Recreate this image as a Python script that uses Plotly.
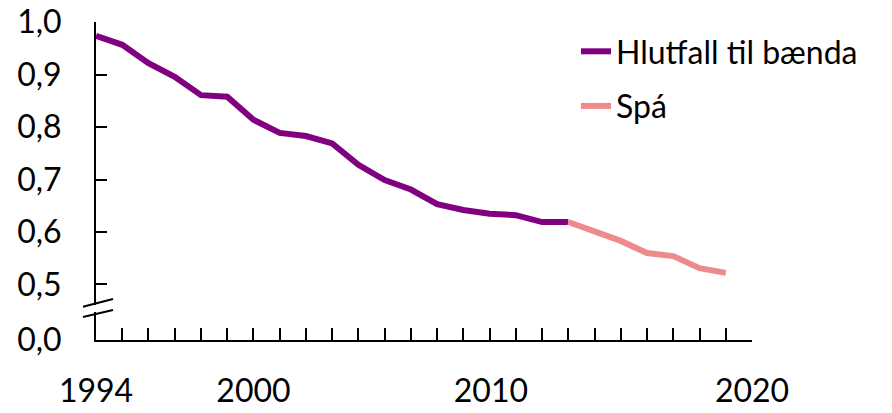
import plotly.graph_objects as go

# ---- data ----
years_actual = list(range(1994, 2013))
share_actual = [0.974, 0.957, 0.922, 0.896, 0.861, 0.858, 0.814, 0.789, 0.783, 0.769,
                0.728, 0.699, 0.681, 0.653, 0.642, 0.635, 0.632, 0.619, 0.619]
years_forecast = list(range(2012, 2019))
share_forecast = [0.619, 0.602, 0.583, 0.560, 0.554, 0.531, 0.522]

y_tick_vals = [0.394, 0.5, 0.6, 0.7, 0.8, 0.9, 1.0]
y_tick_text = ["0,0", "0,5", "0,6", "0,7", "0,8", "0,9", "1,0"]
x_label_vals = [1994, 2000, 2009.05, 2019]
x_label_text = ["1994", "2000", "2010", "2020"]

PURPLE = "#800080"
PINK = "#EE8A8A"
FONT = "Lato"
FS = 32

W, H = 892, 413
L, T = 96, 22
pw, ph = 656, 318
R, B = W - L - pw, H - T - ph

fig = go.Figure()
fig.add_trace(go.Scatter(x=years_actual, y=share_actual, mode="lines",
                         name="Hlutfall til bænda",
                         line=dict(color=PURPLE, width=6), legendgroup="a"))
fig.add_trace(go.Scatter(x=years_forecast, y=share_forecast, mode="lines",
                         name="Spá",
                         line=dict(color=PINK, width=6), legendgroup="b"))
# invisible trace on label axis
fig.add_trace(go.Scatter(x=[1994, 2019], y=[None, None], xaxis="x2",
                         showlegend=False, hoverinfo="skip"))

def px_x(p):  # page px -> paper
    return (p - L) / pw

def px_y(p):
    return (T + ph - p) / ph

fig.update_layout(
    width=W, height=H,
    margin=dict(l=L, r=R, t=T, b=B, autoexpand=False),
    paper_bgcolor="white", plot_bgcolor="white",
    font=dict(family=FONT, size=FS, color="black"),
    xaxis=dict(range=[1994, 2019], tickmode="array",
               tickvals=list(range(1994, 2020)), ticktext=[""] * 26,
               ticks="inside", ticklen=12, tickwidth=2, tickcolor="black",
               showline=True, linecolor="black", linewidth=2,
               showgrid=False, zeroline=False, automargin=False),
    xaxis2=dict(range=[1994, 2019], overlaying="x", side="bottom",
                anchor="y", tickmode="array", tickvals=x_label_vals,
                ticktext=x_label_text, ticks="", showline=False,
                showgrid=False, zeroline=False, ticklabelstandoff=29,
                automargin=False, ticklabeloverflow="allow",
                tickfont=dict(family=FONT, size=FS)),
    yaxis=dict(range=[0.394, 1.0005], tickmode="array",
               tickvals=y_tick_vals, ticktext=y_tick_text,
               ticks="inside", ticklen=11, tickwidth=2, tickcolor="black",
               showline=True, linecolor="black", linewidth=2,
               showgrid=False, zeroline=False, ticklabelstandoff=26,
               automargin=False, ticklabeloverflow="allow",
               tickfont=dict(family=FONT, size=FS)),
    legend=dict(x=px_x(576), y=px_y(24), xanchor="left", yanchor="top",
                font=dict(family=FONT, size=FS, color="black"),
                traceorder="grouped", tracegroupgap=10,
                bgcolor="rgba(0,0,0,0)"),
    showlegend=True,
)

# axis break marks
fig.add_shape(type="rect", xref="paper", yref="paper",
              x0=px_x(93), x1=px_x(99), y0=px_y(312), y1=px_y(305),
              fillcolor="white", line=dict(width=0), layer="above")
for (xa, ya, xb, yb) in [(83, 306.7, 113, 299), (83, 317, 113, 310)]:
    fig.add_shape(type="line", xref="paper", yref="paper",
                  x0=px_x(xa), y0=px_y(ya), x1=px_x(xb), y1=px_y(yb),
                  line=dict(color="black", width=2), layer="above")

fig.write_html("out.html", config={"displayModeBar": False},
               post_script="document.body.style.margin='0';document.body.style.overflow='hidden';")
